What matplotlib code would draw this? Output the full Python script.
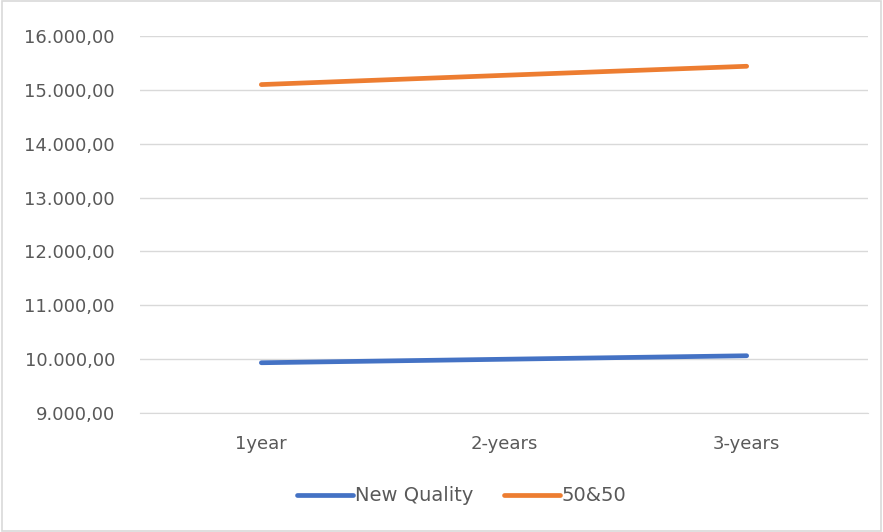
import matplotlib.pyplot as plt
from matplotlib.ticker import FuncFormatter

years = ['1year', '2-years', '3-years']
new_quality = [9933, 9998, 10063]
fifty_fifty = [15098, 15270, 15438]
yticks = [9000, 10000, 11000, 12000, 13000, 14000, 15000, 16000]

txt = '#595959'

fig = plt.figure(figsize=(8.83, 5.32), dpi=100)
ax = fig.add_axes([140/883, 1-413/532, (868-140)/883, (413-36)/532])

x = range(len(years))
ax.plot(x, new_quality, color='#4472C4', lw=3.4, solid_capstyle='round', label='New Quality')
ax.plot(x, fifty_fifty, color='#ED7D31', lw=3.4, solid_capstyle='round', label='50&50')

ax.set_xlim(-0.5, 2.5)
ax.set_ylim(9000, 16000)
ax.set_yticks(yticks)
ax.yaxis.set_major_formatter(FuncFormatter(
    lambda v, p: '{:,.2f}'.format(v).replace(',', 'X').replace('.', ',').replace('X', '.')))
ax.set_xticks(list(x))
ax.set_xticklabels(years)
ax.grid(axis='y', color='#D9D9D9', lw=1)
ax.set_axisbelow(True)
for s in ax.spines.values():
    s.set_visible(False)
ax.spines['bottom'].set_visible(True)
ax.spines['bottom'].set_color('#D9D9D9')
ax.tick_params(length=0, labelsize=13, labelcolor=txt)
ax.tick_params(axis='y', pad=18)
ax.tick_params(axis='x', pad=16)

leg = ax.legend(loc='center', bbox_to_anchor=(0.442, -0.22), ncol=2, frameon=False,
                fontsize=14, handlelength=2.85, handletextpad=0.1, columnspacing=1.6)
for t in leg.get_texts():
    t.set_color(txt)

# outer border
fig.patches.append(plt.Rectangle((0.002, 0.002), 0.996, 0.996, transform=fig.transFigure,
                                 fill=False, edgecolor='#D9D9D9', lw=1.2))

fig.savefig('out.png', dpi=100)
